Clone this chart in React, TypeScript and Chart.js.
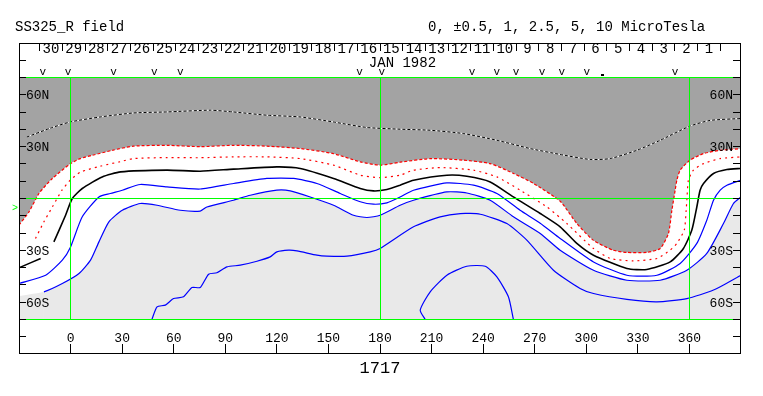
import React, { useEffect, useRef } from "react";
import { Chart, registerables } from "chart.js";

Chart.register(...registerables);

// ---- texts ----
const TITLE = "SS325_R field";
const LEVELS = "0, \u00b10.5, 1, 2.5, 5, 10 MicroTesla";
const ROTATION = "1717";
const MONTH = "JAN 1982";

// ---- axes ----
const xTicks = [0, 30, 60, 90, 120, 150, 180, 210, 240, 270, 300, 330, 360];
const latTickValues = [60, 30, -30, -60];
const latTickLabels = ["60N", "30N", "30S", "60S"];
const latMinorTicks = [80, 70, 60, 50, 40, 30, 20, 10, 0, -10, -20, -30, -40, -50, -60, -70, -80];
const gridLat = [70, 0, -70];
const gridLon = [0, 180, 360];

// Carrington days (day boundary of first label, degrees per day)
const dayLabels = [30, 29, 28, 27, 26, 25, 24, 23, 22, 21, 20, 19, 18, 17, 16, 15, 14, 13, 12, 11, 10, 9, 8, 7, 6, 5, 4, 3, 2, 1];
const dayStartLon = -18;
const dayStepLon = 13.2;
const monthLon = 173.5;
const markLon = [-16.1, -1.5, 25.0, 48.7, 63.8, 168.1, 181.1, 233.5, 248.0, 259.2, 274.2, 285.8, 300.3, 351.7];
const dotLon = [309];
const earthLat = -5.8;

// ---- contours [longitude, latitude] ----
const grayEdge: [number, number][] = [
  [-30, -15.4], [-24.2, -7.8], [-18.4, 2.9], [-10.6, 11.6], [0, 20.2], [5.6, 23.1], [12.6, 25.0], [24.3, 27.9],
  [36.5, 30.3], [56.1, 30.8], [75.4, 30.0], [94.6, 30.8], [114.2, 30.3], [133.6, 28.9], [152.8, 26.0], [168.5, 21.2],
  [180.1, 19.3], [191.7, 21.0], [209.2, 23.1], [228.4, 22.2], [244.1, 20.2], [257.7, 14.5], [269.3, 8.7], [284.8, -1.6],
  [294.5, -14.5], [304.0, -24.1], [315.6, -29.9], [323.6, -31.2], [335.2, -31.2], [343.0, -28.9], [347.8, -20.2],
  [349.8, -6.8], [351.7, 4.8], [352.7, 10.6], [354.6, 16.4], [360.4, 22.2], [368.2, 26.0], [377.9, 27.9], [390, 28.9],
];

const redInner: [number, number][] = [
  [-20.4, -23.1], [-15.5, -13.5], [-10.6, -4.9], [-5.0, 4.8], [-0.2, 10.6], [5.6, 15.2], [17.3, 18.7], [28.9, 21.3],
  [36.6, 23.1], [56.1, 23.7], [75.4, 23.6], [94.6, 24.1], [114.2, 24.1], [133.6, 23.1], [153.0, 19.3], [168.5, 13.5],
  [180.1, 12.1], [191.7, 13.5], [199.5, 16.4], [215.0, 17.9], [234.4, 16.4], [248.0, 12.5], [261.5, 4.8], [277.1, -4.9],
  [288.7, -14.5], [304.0, -28.8], [313.9, -34.7], [327.4, -36.1], [341.1, -34.7], [348.8, -29.9], [352.7, -26.0],
  [357.0, -18.3], [358.1, -6.8], [358.5, -1.0], [359.4, 10.6], [362.3, 16.4], [368.2, 20.2], [377.9, 23.1], [390, 24.1],
];

const neutral: [number, number | null][] = [
  [-30, -40.1], [-17.4, -34.7], [-13.5, null], [-9.7, -25.1], [-2.9, -9.7], [1.0, 0], [6.8, 5.8], [18.4, 12.5],
  [29.1, 15.4], [56.1, 16.4], [75.4, 15.8], [94.8, 17.0], [120.0, 18.3], [133.6, 17.4], [153.0, 11.6], [168.5, 5.8],
  [176.2, 4.4], [184.0, 5.2], [191.7, 7.7], [199.5, 10.6], [218.9, 13.5], [230.5, 12.9], [244.1, 9.6], [257.6, 0.9],
  [273.2, -8.7], [284.8, -16.4], [294.5, -26.0], [304.2, -32.8], [323.6, -40.5], [335.2, -41.1], [348.8, -36.7],
  [356.5, -28.9], [361.4, -18.3], [364.3, -4.9], [366.2, 4.8], [368.2, 8.7], [374.0, 14.5], [381.8, 16.8], [390, 17.4],
];

const blueOne: [number, number][] = [
  [-30, -49.2], [-14.5, -44.4], [-4.8, -35.7], [0, -28.0], [6.8, -10.6], [16.5, 0.9], [23.1, 2.9], [30.1, 4.8],
  [40.5, 8.1], [56.1, 6.7], [75.4, 5.5], [94.8, 8.7], [114.2, 11.6], [129.7, 11.6], [143.3, 8.7], [156.9, 2.9],
  [168.5, -1.9], [176.2, -3.3], [184.0, -2.5], [191.7, 0.9], [199.5, 4.8], [218.9, 9.0], [234.4, 7.7], [248.0, 2.9],
  [261.5, -6.8], [273.2, -14.3], [284.8, -23.1], [304.2, -36.7], [323.6, -44.4], [341.1, -44.4], [354.6, -37.6],
  [364.3, -26.0], [370.1, -12.6], [374.0, -1.0], [377.9, 4.8], [381.8, 7.7], [390, 10.6],
];

const lightEdge: [number, number][] = [
  [-30, -56.5], [-15.5, -54.0], [-4.8, -49.2], [4.9, -43.4], [11.6, -35.7], [16.5, -25.1], [22.3, -13.5], [30.1, -6.8],
  [40.5, -2.9], [50.3, -3.9], [63.8, -6.8], [75.4, -7.3], [79.3, -4.9], [94.8, -1.0], [104.5, 1.9], [120.0, 4.8],
  [127.8, 4.4], [139.4, 0.9], [153.0, -3.9], [164.6, -9.7], [172.4, -11.0], [180.1, -9.7], [191.7, -3.9], [199.5, -1.0],
  [218.9, 3.8], [230.5, 3.2], [244.1, -1.0], [257.6, -10.6], [273.2, -20.2], [284.8, -29.9], [304.2, -41.5],
  [323.6, -47.3], [343.0, -47.3], [358.5, -41.5], [370.1, -31.8], [379.8, -14.5], [385.6, -2.9], [390, 0.9],
];

const blueThree: [number, number][] = [
  [47.3, -70], [50.3, -62.7], [55.1, -61.7], [59.9, -57.9], [65.7, -56.9], [70.6, -51.5], [75.4, -51.5], [80.3, -43.8],
  [85.1, -43.0], [91.0, -39.6], [98.7, -38.6], [108.4, -36.3], [116.1, -33.8], [120.0, -30.9], [126.8, -29.9],
  [131.7, -30.3], [143.3, -32.8], [149.1, -33.4], [160.8, -33.4], [174.3, -30.9], [180.1, -28.9], [199.5, -16.4],
  [215.0, -10.6], [226.7, -8.7], [238.3, -9.1], [253.8, -14.5], [265.4, -24.1], [280.9, -41.5], [296.4, -52.1],
  [304.2, -55.0], [323.6, -58.4], [341.1, -59.8], [358.5, -57.9], [374.0, -53.0], [390, -44.4],
];

const blueOval: [number, number][] = [
  [206.3, -70], [203.4, -64.6], [209.2, -54.0], [218.9, -44.4], [230.5, -39.2], [241.2, -39.2], [248.0, -45.4],
  [254.7, -56.9], [257.6, -70],
];

const northDashed: [number, number][] = [
  [-25.4, 35.6], [-11.8, 40.7], [-0.2, 44.3], [17.3, 47.2], [36.5, 49.5], [56.1, 50.1], [81.3, 51.1], [94.6, 50.1],
  [114.2, 48.2], [133.6, 47.2], [152.8, 44.3], [172.4, 41.1], [191.7, 40.1], [209.2, 39.5], [228.4, 37.6], [248.0, 33.7],
  [267.4, 28.9], [284.8, 25.5], [302.2, 22.6], [313.9, 23.1], [329.4, 27.9], [343.0, 33.7], [360.0, 41.8], [372.0, 45.2],
  [390, 46.3],
];

const DARK = "#a3a3a3";
const LIGHT = "#e9e9e9";
const GREEN = "#00ff00";
const FONT = "'Liberation Mono', 'DejaVu Sans Mono', monospace";

const pts = (arr: [number, number | null][]) => arr.map(([x, y]) => ({ x, y }));

const decor = {
  id: "decor",
  afterDatasetsDraw(chart: any) {
    const { ctx, chartArea: a, scales } = chart;
    const x = scales.x, y = scales.y;
    ctx.save();
    // green reference lines
    ctx.strokeStyle = GREEN;
    ctx.lineWidth = 1;
    ctx.beginPath();
    for (const lat of gridLat) {
      const py = Math.floor(y.getPixelForValue(lat)) + 0.5;
      ctx.moveTo(a.left, py);
      ctx.lineTo(a.right, py);
    }
    for (const lon of gridLon) {
      const px = Math.floor(x.getPixelForValue(lon)) + 0.5;
      ctx.moveTo(px, Math.floor(y.getPixelForValue(70)));
      ctx.lineTo(px, Math.floor(y.getPixelForValue(-70)) + 1);
    }
    ctx.stroke();
    // frame
    ctx.strokeStyle = "#000";
    ctx.lineWidth = 1;
    ctx.strokeRect(a.left + 0.5, a.top + 0.5, a.right - a.left - 1, a.bottom - a.top - 1);
    ctx.beginPath();
    for (const lat of latMinorTicks) {
      const py = Math.floor(y.getPixelForValue(lat)) + 0.5;
      ctx.moveTo(a.left, py);
      ctx.lineTo(a.left + 7, py);
      ctx.moveTo(a.right - 8, py);
      ctx.lineTo(a.right, py);
    }
    for (const lon of xTicks) {
      const px = Math.floor(x.getPixelForValue(lon)) + 0.5;
      ctx.moveTo(px, a.bottom);
      ctx.lineTo(px, a.bottom - 10);
    }
    for (let k = 0; k <= dayLabels.length; k++) {
      const px = Math.floor(x.getPixelForValue(dayStartLon + k * dayStepLon)) + 0.5;
      ctx.moveTo(px, a.top);
      ctx.lineTo(px, a.top + 8);
    }
    ctx.stroke();

    ctx.fillStyle = "#000";
    // lat labels
    ctx.font = `13px ${FONT}`;
    ctx.textBaseline = "middle";
    latTickValues.forEach((lat, i) => {
      const py = y.getPixelForValue(lat) + 1;
      ctx.textAlign = "left";
      ctx.fillText(latTickLabels[i], a.left + 7, py);
      ctx.textAlign = "right";
      ctx.fillText(latTickLabels[i], a.right - 8, py);
    });
    // lon labels
    ctx.textAlign = "center";
    ctx.textBaseline = "alphabetic";
    for (const lon of xTicks) {
      ctx.fillText(String(lon), x.getPixelForValue(lon), a.bottom - 12);
    }
    // day labels
    ctx.font = `14px ${FONT}`;
    dayLabels.forEach((d, k) => {
      ctx.fillText(String(d), x.getPixelForValue(dayStartLon + (k + 0.5) * dayStepLon), a.top + 10);
    });
    ctx.textAlign = "left";
    ctx.fillText(MONTH, x.getPixelForValue(monthLon), a.top + 24);
    // v markers
    ctx.font = `11px ${FONT}`;
    ctx.textAlign = "center";
    for (const lon of markLon) {
      ctx.fillText("v", x.getPixelForValue(lon), a.top + 32);
    }
    for (const lon of dotLon) {
      ctx.fillRect(Math.round(x.getPixelForValue(lon)) - 1, a.top + 31, 3, 2);
    }
    // earth latitude marker
    ctx.fillStyle = GREEN;
    ctx.font = `10px ${FONT}`;
    ctx.textAlign = "right";
    ctx.textBaseline = "middle";
    ctx.fillText(">", a.left - 1, y.getPixelForValue(earthLat));
    // titles
    ctx.fillStyle = "#000";
    ctx.textBaseline = "alphabetic";
    ctx.font = `14px ${FONT}`;
    ctx.textAlign = "left";
    ctx.fillText(TITLE, 15, 31);
    ctx.fillText(LEVELS, 428, 31);
    ctx.font = `17px ${FONT}`;
    ctx.textAlign = "center";
    ctx.fillText(ROTATION, 380, 373);
    ctx.restore();
  },
};

export default function App() {
  const ref = useRef<HTMLCanvasElement>(null);
  useEffect(() => {
    const chart = new Chart(ref.current!, {
      type: "line",
      data: {
        datasets: [
          { data: pts(northDashed), borderColor: "#000", borderWidth: 1, borderDash: [3, 2], fill: false, order: 1 },
          { data: pts(northDashed), borderColor: "#fff", borderWidth: 1, fill: false, order: 2 },
          { data: pts(grayEdge), borderColor: "#ff0000", borderWidth: 1.2, borderDash: [3, 2], fill: { value: 70 }, backgroundColor: DARK, order: 3 },
          { data: pts(redInner), borderColor: "#ff0000", borderWidth: 1.2, borderDash: [2, 4], fill: false, order: 3 },
          { data: pts(neutral), borderColor: "#000", borderWidth: 1.6, fill: false, spanGaps: false, order: 3 },
          { data: pts(blueOne), borderColor: "#0000ff", borderWidth: 1.2, fill: false, order: 3 },
          {
            data: pts(lightEdge), borderColor: "#0000ff", borderWidth: 1.2, fill: { value: -70 }, backgroundColor: LIGHT, order: 4,
            segment: { borderColor: (c: any) => (c.p0DataIndex === 0 ? "rgba(0,0,0,0)" : undefined) },
          },
          { data: pts(blueThree), borderColor: "#0000ff", borderWidth: 1.2, fill: false, order: 3 },
          { data: pts(blueOval), borderColor: "#0000ff", borderWidth: 1.2, fill: false, order: 3 },
        ] as any,
      },
      options: {
        animation: false,
        responsive: false,
        maintainAspectRatio: false,
        layout: { padding: { left: 19, right: 22, top: 43, bottom: 42 } },
        scales: {
          x: { type: "linear", min: -30, max: 390, display: false },
          y: { type: "linear", min: -90, max: 90, display: false },
        },
        elements: { point: { radius: 0 }, line: { tension: 0.2 } },
        plugins: {
          legend: { display: false },
          tooltip: { enabled: false },
          filler: { drawTime: "beforeDatasetsDraw", propagate: false },
        } as any,
      },
      plugins: [decor],
    });
    return () => chart.destroy();
  }, []);
  return (
    <div style={{ position: "absolute", left: 0, top: 0, width: 763, height: 396, background: "#fff" }}>
      <canvas ref={ref} width={763} height={396} style={{ display: "block" }} />
    </div>
  );
}
